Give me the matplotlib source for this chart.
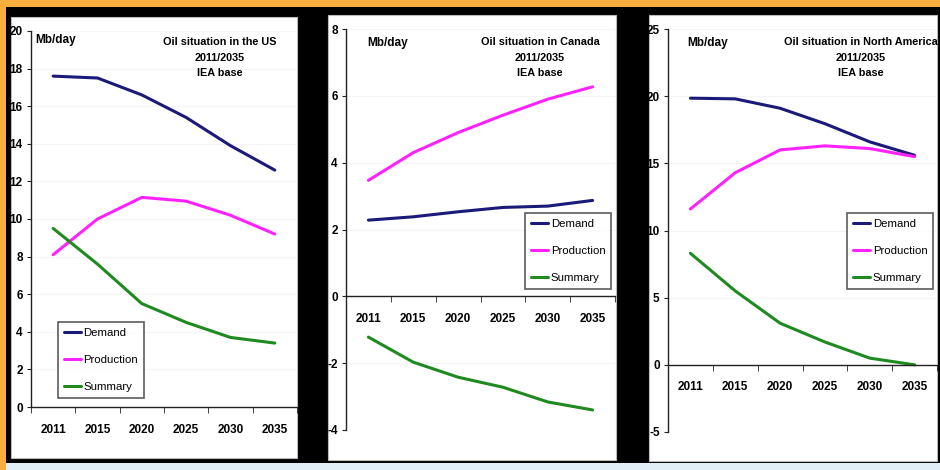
import matplotlib.pyplot as plt
from matplotlib.patches import Rectangle
from matplotlib.ticker import FixedLocator
from matplotlib import font_manager

years = ['2011', '2015', '2020', '2025', '2030', '2035']

us_demand = [17.6, 17.5, 16.6, 15.4, 13.9, 12.6]
us_production = [8.1, 10.0, 11.15, 10.95, 10.2, 9.2]
us_summary = [9.5, 7.6, 5.5, 4.5, 3.7, 3.4]

ca_demand = [2.28, 2.38, 2.53, 2.66, 2.7, 2.87]
ca_production = [3.47, 4.3, 4.9, 5.42, 5.9, 6.27]
ca_summary = [-1.22, -1.97, -2.42, -2.72, -3.16, -3.4]

na_demand = [19.85, 19.8, 19.1, 17.95, 16.6, 15.6]
na_production = [11.6, 14.3, 16.0, 16.3, 16.1, 15.5]
na_summary = [8.3, 5.5, 3.1, 1.7, 0.5, 0.0]

titles = ['Oil situation in the US\n2011/2035\nIEA base',
          'Oil situation in Canada\n2011/2035\nIEA base',
          'Oil situation in North America\n2011/2035\nIEA base']
series_names = ['Demand', 'Production', 'Summary']
colors = ['#1c1a78', '#ff22ff', '#1f8a1f']

# a narrow face if there is one, the original looks like Arial Narrow
installed = {f.name for f in font_manager.fontManager.ttflist}
narrow = [n for n in ['Liberation Sans Narrow', 'DejaVu Sans Condensed']
          if n in installed] or ['Liberation Sans']
is_narrow = narrow[0] != 'Liberation Sans'
narrow = narrow + ['DejaVu Sans']

W, H = 940, 470
fig = plt.figure(figsize=(9.4, 4.7), dpi=100)
fig.patch.set_facecolor('black')

def px_rect(x0, y0, x1, y1, **kw):
    fig.patches.append(Rectangle((x0 / W, 1 - y1 / H), (x1 - x0) / W, (y1 - y0) / H,
                                 transform=fig.transFigure, figure=fig, zorder=-5, **kw))

# frame: orange top/left, light strip at bottom
px_rect(0, 0, W, 7, facecolor='#f8ae3e', edgecolor='none')
px_rect(0, 0, 6, H, facecolor='#f8ae3e', edgecolor='none')
px_rect(6, 463, W, H, facecolor='#e2eef7', edgecolor='none')
# white panels
px_rect(11, 17, 297, 458, facecolor='white', edgecolor='#bbbbbb', lw=0.8)
px_rect(328, 15, 616, 460, facecolor='white', edgecolor='#bbbbbb', lw=0.8)
px_rect(649, 15, 937, 461, facecolor='white', edgecolor='#bbbbbb', lw=0.8)

fs_title = 9 if is_narrow else 7.8
fs_tick = 9 if is_narrow else 8.5
fs_leg = 10 if is_narrow else 8.2

panels = [
    dict(box=(31, 297, 31, 407), ylim=(0, 20), yticks=range(0, 21, 2),
         data=(us_demand, us_production, us_summary), title=titles[0],
         tx=220, mbx=35, mby=40, leg=(58, 322, 144, 398)),
    dict(box=(346, 615, 29, 430), ylim=(-4, 8), yticks=range(-4, 9, 2),
         data=(ca_demand, ca_production, ca_summary), title=titles[1],
         tx=540, mbx=367, mby=43, leg=(525, 213, 611, 289)),
    dict(box=(668, 937, 29, 432), ylim=(-5, 25), yticks=range(-5, 26, 5),
         data=(na_demand, na_production, na_summary), title=titles[2],
         tx=861, mbx=687, mby=43, leg=(847, 213, 933, 289)),
]

for p in panels:
    l, r, t, b = p['box']
    ax = fig.add_axes([l / W, 1 - b / H, (r - l) / W, (b - t) / H])
    ax.set_facecolor('none')
    x = list(range(len(years)))
    for vals, name, c in zip(p['data'], series_names, colors):
        ax.plot(x, vals, color=c, lw=2.2, label=name, solid_capstyle='round')
    ax.set_xlim(-0.5, len(years) - 0.5)
    ax.set_ylim(*p['ylim'])
    ax.set_yticks(list(p['yticks']))
    ax.set_yticklabels([str(v) for v in p['yticks']], fontfamily=narrow,
                       fontweight='bold', fontsize=fs_tick)
    ax.grid(axis='y', color='#f5f5f5', lw=0.8)
    ax.set_axisbelow(True)
    ax.spines['top'].set_visible(False)
    ax.spines['right'].set_visible(False)
    ax.spines['bottom'].set_position(('data', 0))
    for s in ('left', 'bottom'):
        ax.spines[s].set_color('#222222')
        ax.spines[s].set_linewidth(1.0)
    ax.set_xticks(x)
    ax.set_xticklabels(years, fontfamily=narrow, fontweight='bold', fontsize=fs_tick)
    ax.xaxis.set_minor_locator(FixedLocator([i - 0.5 for i in range(len(years) + 1)]))
    ax.tick_params(axis='x', which='major', length=0, pad=12)
    ax.tick_params(axis='x', which='minor', length=4, direction='out', color='#222222')
    ax.tick_params(axis='y', length=3, direction='out', pad=3, color='#222222')

    fig.text(p['tx'] / W, 1 - 37 / H, p['title'], ha='center', va='top',
             fontfamily=narrow, fontweight='bold', fontsize=fs_title, linespacing=1.7)
    fig.text(p['mbx'] / W, 1 - p['mby'] / H, 'Mb/day', ha='left', va='center',
             fontfamily=narrow, fontweight='bold', fontsize=fs_tick)

    lx0, ly0, lx1, ly1 = p['leg']
    leg = ax.legend(loc='upper left',
                    bbox_to_anchor=((lx0 - l) / (r - l), (b - ly0) / (b - t)),
                    frameon=True, fancybox=False, edgecolor='#333333',
                    prop={'family': narrow, 'size': fs_leg},
                    handlelength=1.5, handletextpad=0.25, labelspacing=1.5,
                    borderpad=0.5, borderaxespad=0)
    leg.get_frame().set_linewidth(1.2)

fig.savefig('out.png', dpi=100, facecolor=fig.get_facecolor())
